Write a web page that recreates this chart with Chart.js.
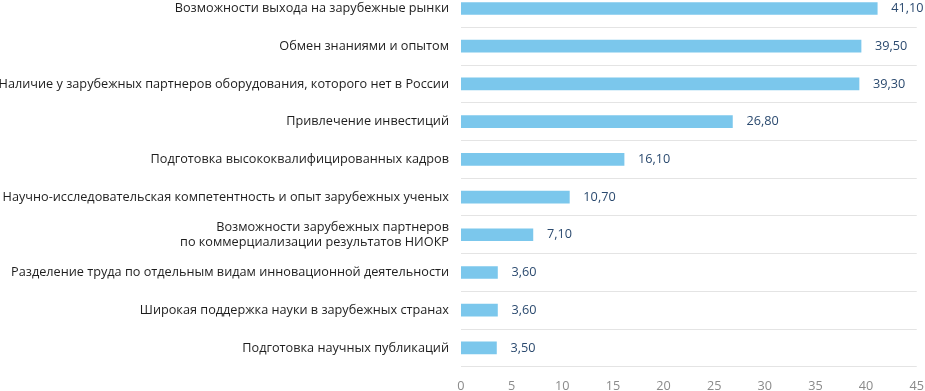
<!DOCTYPE html>
<html>
<head>
<meta charset="utf-8">
<script src="https://cdn.jsdelivr.net/npm/chart.js@4"></script>
<style>
    html, body { margin: 0; padding: 0; background: #fff; overflow: hidden; }
    #wrap { position: absolute; left: -6px; top: -30px; width: 934px; height: 428px; }
</style>
</head>
<body>
<div id="wrap"><canvas id="barChart"></canvas></div>
<script>
const categories = [
    'Возможности выхода на зарубежные рынки',
    'Обмен знаниями и опытом',
    'Наличие у зарубежных партнеров оборудования, которого нет в России',
    'Привлечение инвестиций',
    'Подготовка высококвалифицированных кадров',
    'Научно-исследовательская компетентность и опыт зарубежных ученых',
    ['Возможности зарубежных партнеров', 'по коммерциализации результатов НИОКР'],
    'Разделение труда по отдельным видам инновационной деятельности',
    'Широкая поддержка науки в зарубежных странах',
    'Подготовка научных публикаций'
]
const values = [41.1, 39.5, 39.3, 26.8, 16.1, 10.7, 7.1, 3.6, 3.6, 3.5]
const xTicks = [0, 5, 10, 15, 20, 25, 30, 35, 40, 45]

const valueLabels = {
    id: 'valueLabels',
    afterDatasetsDraw(chart) {
        const ctx = chart.ctx
        const meta = chart.getDatasetMeta(0)
        ctx.save()
        ctx.font = '12.7px "Open Sans"'
        ctx.fillStyle = '#2b4a6f'
        ctx.textAlign = 'left'
        ctx.textBaseline = 'middle'
        meta.data.forEach((bar, i) => {
            const txt = values[i].toFixed(2).replace('.', ',')
            ctx.fillText(txt, bar.x + 14, bar.y)
        })
        ctx.restore()
    }
}

const ctx = document.getElementById('barChart').getContext('2d');

new Chart(ctx, {
    type: 'bar',
    data: {
        labels: categories,
        datasets: [{
            data: values,
            backgroundColor: '#7bc7ec',
            barThickness: 12,
        }]
    },
    options: {
        indexAxis: 'y',
        responsive: true,
        maintainAspectRatio: false,
        animation: false,
        layout: { padding: 0 },
        scales: {
            x: {
                min: 0,
                max: 45,
                afterBuildTicks: (axis) => { axis.ticks = xTicks.map(v => ({ value: v })) },
                grid: { display: false },
                border: { display: false },
                ticks: {
                    color: '#8a8a8a',
                    font: { family: 'Open Sans', size: 12.7 },
                    padding: 4,
                }
            },
            y: {
                grid: {
                    color: '#e4e4e4',
                    drawTicks: false,
                    offset: true,
                },
                border: { display: false },
                ticks: {
                    color: '#1e1e1e',
                    font: { family: 'Open Sans', size: 12.7 },
                    padding: 12,
                }
            }
        },
        plugins: {
            legend: { display: false },
            tooltip: { enabled: false }
        }
    },
    plugins: [valueLabels]
});
</script>
</body>
</html>
